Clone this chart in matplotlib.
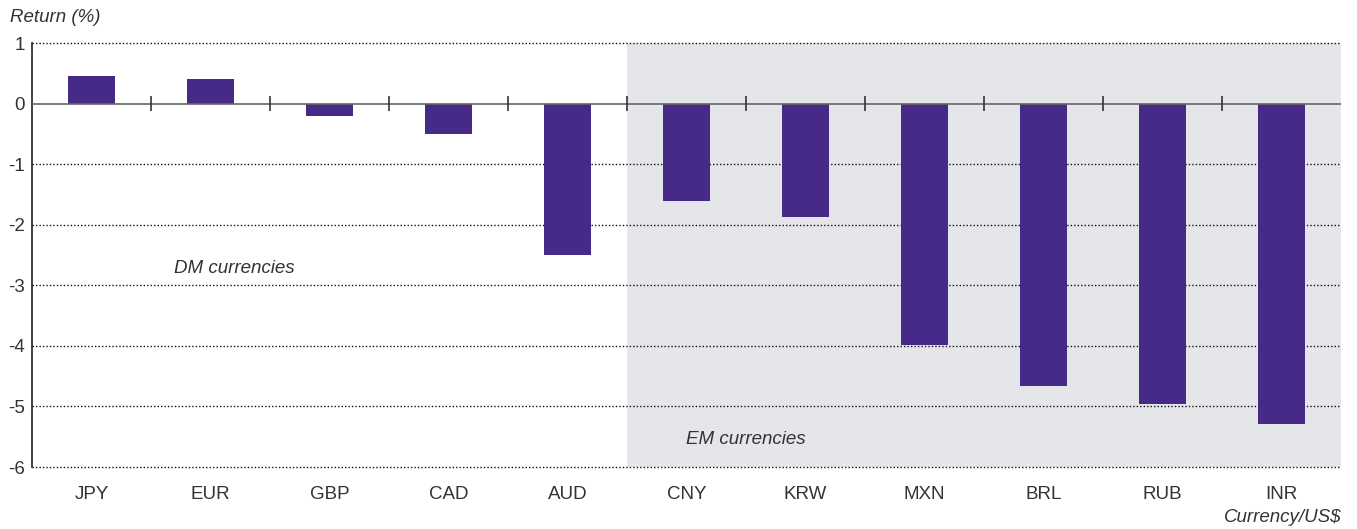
import numpy as np
import matplotlib.pyplot as plt

# data
currencies = ['JPY', 'EUR', 'GBP', 'CAD', 'AUD', 'CNY', 'KRW', 'MXN', 'BRL', 'RUB', 'INR']
returns = [0.46, 0.41, -0.20, -0.50, -2.50, -1.61, -1.87, -3.99, -4.66, -4.96, -5.29]
n_dm = 5
yticks = [1, 0, -1, -2, -3, -4, -5, -6]

plt.rcParams['font.family'] = ['Liberation Sans', 'DejaVu Sans']
fs = 13.5

fig = plt.figure(figsize=(13.57, 5.29), dpi=100)
ax = fig.add_axes([32/1357, 1 - 467/529, (1341-32)/1357, (467-43)/529])

x = np.arange(len(currencies))
ax.set_xlim(-0.5, len(currencies) - 0.5)
ax.set_ylim(-6, 1)

# shaded EM region
ax.axvspan(n_dm - 0.5, len(currencies) - 0.5, color='#e5e6e9', zorder=0, lw=0)

# dotted gridlines
for v in yticks:
    if v != 0:
        ax.axhline(v, color='#111111', ls=(0, (1, 1.5)), lw=1.0, zorder=1, clip_on=False)

ax.bar(x, returns, width=0.39, color='#472a87', zorder=2)

# zero line with separators
ax.axhline(0, color='#666666', lw=1.2, zorder=3)
ax.vlines(x[:-1] + 0.5, -0.12, 0.12, color='#333333', lw=1.2, zorder=3)

for s in ['top', 'right', 'bottom']:
    ax.spines[s].set_visible(False)
ax.spines['left'].set_color('#222222')
ax.spines['left'].set_linewidth(1.2)

ax.set_yticks(yticks)
ax.set_yticklabels([str(v) for v in yticks], fontsize=fs, color='#333333')
ax.set_xticks(x)
ax.set_xticklabels(currencies, fontsize=fs, color='#333333')
ax.tick_params(axis='both', length=0)
ax.tick_params(axis='y', pad=5)
ax.tick_params(axis='x', pad=14)

ax.text(1.2, -2.72, 'DM currencies', fontsize=fs, style='italic', color='#333333',
        ha='center', va='center')
ax.text(5.5, -5.55, 'EM currencies', fontsize=fs, style='italic', color='#333333',
        ha='center', va='center')

fig.text(10/1357, 1 - 17/529, 'Return (%)', fontsize=fs, style='italic', color='#333333',
         ha='left', va='center')
fig.text(1341/1357, 1 - 517/529, 'Currency/US$', fontsize=fs, style='italic', color='#333333',
         ha='right', va='center')

fig.savefig('out.png', dpi=100)
